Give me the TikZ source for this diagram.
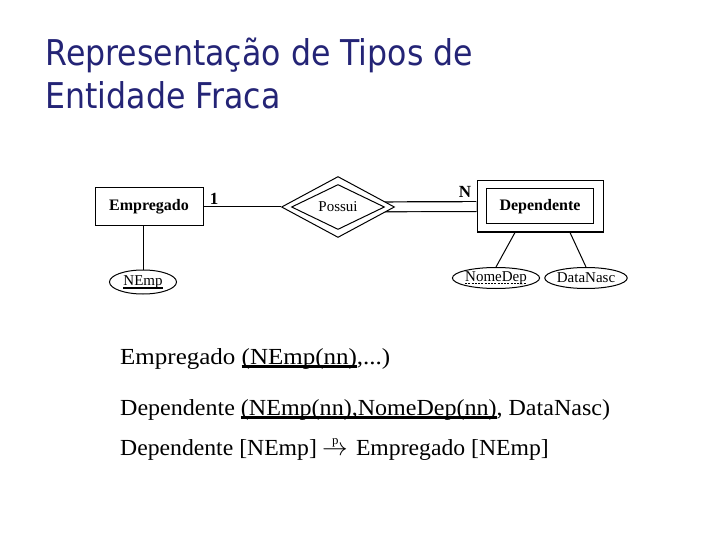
\documentclass[tikz,border=0pt]{standalone}
\usepackage{fontspec}
\setmainfont{Liberation Serif}
\newfontfamily\titlefont[FakeStretch=0.89]{DejaVu Sans}
\usetikzlibrary{shapes.geometric,backgrounds}
\definecolor{titleblue}{RGB}{36,36,118}
\newsavebox\ulbox
\newcommand\keyline[2][2pt]{\sbox\ulbox{#2}\rlap{\raisebox{-3.5pt}{\rule{\wd\ulbox}{#1}}}\usebox\ulbox}
\newcommand\partkey[1]{\sbox\ulbox{#1}\rlap{\raisebox{-2.5pt}{\hbox to \wd\ulbox{\xleaders\hbox{\rule{2pt}{0.7pt}\hskip1.2pt}\hfill}}}\usebox\ulbox}
\newcommand\setap{\makebox[23pt][l]{$\rightarrow$\hspace{-15pt}\raisebox{11pt}{\fontsize{12.5}{12}\selectfont p}}}

\begin{document}
\begin{tikzpicture}[x=1pt, y=-1pt, line width=1pt,
    every node/.style={inner sep=0pt},
    entidade/.style={draw, rectangle, font=\fontsize{16}{18}\selectfont\bfseries},
    relac/.style={draw, diamond, fill=white, aspect=1.85, font=\fontsize{15}{17}\selectfont},
    atrib/.style={draw, ellipse, font=\fontsize{15}{17}\selectfont},
    card/.style={font=\fontsize{17}{18}\selectfont\bfseries},
    titulo/.style={anchor=base west, text=titleblue, font=\titlefont\fontsize{35.5}{40}\selectfont},
    linha/.style={anchor=base west, font=\fontsize{23}{28}\selectfont}]

\useasboundingbox (0,0) rectangle (720,540);

\node[titulo] (tit1) at (45,66) {Representação de Tipos de};
\node[titulo] (tit2) at (45,109) {Entidade Fraca};

% modelo ER
\node[entidade, minimum width=108pt, minimum height=38pt] (emp) at (149,207) {Empregado};
\node[relac, minimum width=113pt, minimum height=61pt] (pos) at (338,207) {};
\node[relac, minimum width=93pt, minimum height=45pt] (posi) at (338,207) {Possui};
\node[entidade, minimum width=126pt, minimum height=51pt] (depo) at (540,206.5) {};
\node[entidade, minimum width=107pt, minimum height=35pt] (dep) at (540,206.5) {Dependente};

\node[atrib, minimum width=67pt, minimum height=24pt] (nemp) at (143,282) {\keyline[1.8pt]{NEmp}};
\node[atrib, minimum width=72pt, minimum height=21pt] (nomedep) at (496,278) {\partkey{NomeDep}};
\node[atrib, minimum width=77pt, minimum height=21pt] (datanasc) at (586,278) {DataNasc};

\node[card] (um) at (214,199) {1};
\node[card] (ene) at (465,192) {N};

\draw (emp.east) -- (pos.west);
\draw (nemp.north |- emp.south) -- (nemp.north);
\draw ([xshift=-25pt]depo.south) -- (nomedep.north);
\draw ([xshift=30pt]depo.south) -- (datanasc.north);

\begin{pgfonlayer}{background}
    \draw[double, line width=1.2pt, double distance=8.6pt] (pos.center) -- (depo.west);
\end{pgfonlayer}

% esquema relacional
\node[linha] (rel1) at (120,364) {\scalebox{1.087}[1]{Empregado \keyline[2.5pt]{(NEmp(nn)},...)}};
\node[linha] (rel2) at (120,415) {\scalebox{1.045}[1]{Dependente \keyline[2.5pt]{(NEmp(nn),NomeDep(nn)}, DataNasc)}};
\node[linha] (rel3) at (120,455) {\scalebox{1.03}[1]{Dependente [NEmp]\hspace{5pt}\setap\hspace{10pt}Empregado [NEmp]}};

\end{tikzpicture}
\end{document}
